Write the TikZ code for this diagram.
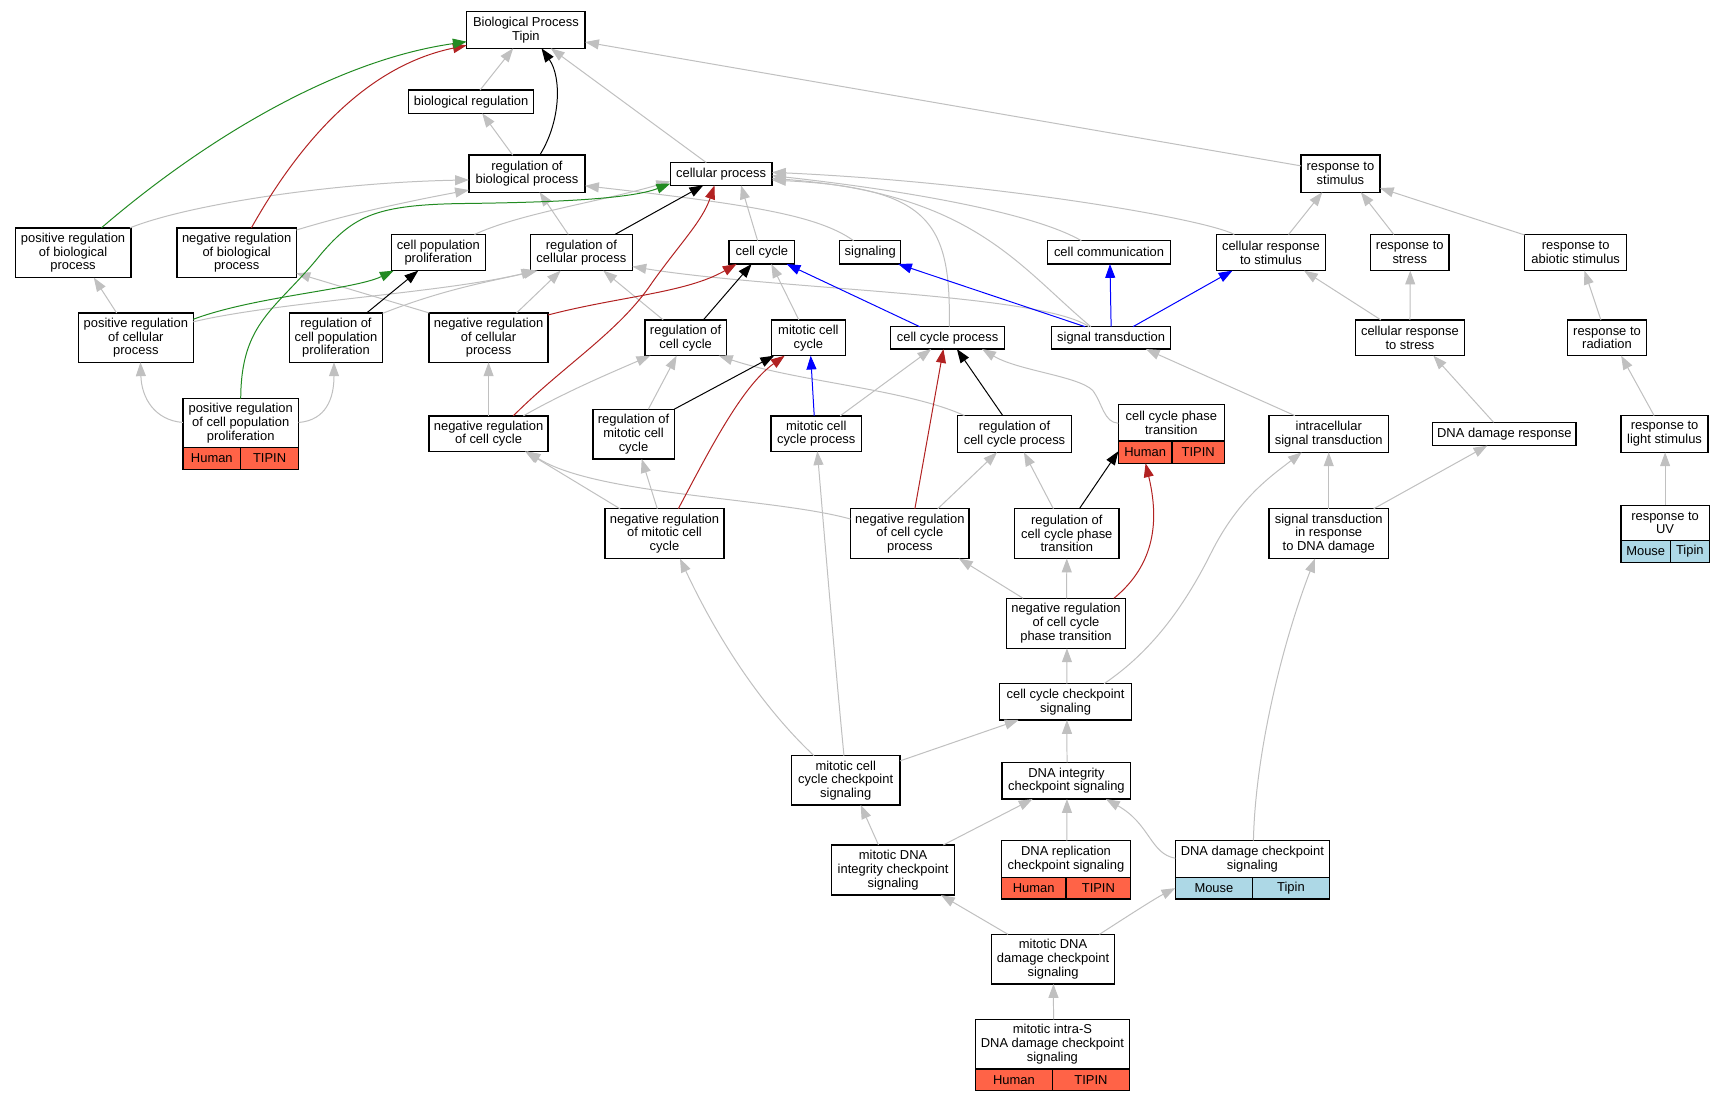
\documentclass[tikz,border=0pt]{standalone}
\usepackage{fontspec}
\setmainfont{Liberation Sans}
\usetikzlibrary{arrows.meta,calc}
\definecolor{edgegray}{RGB}{192,192,192}
\definecolor{tomatoc}{RGB}{255,99,71}
\definecolor{lblue}{RGB}{173,216,230}
\definecolor{fbrick}{RGB}{178,34,34}
\definecolor{fgreen}{RGB}{34,139,34}
\tikzset{
  gobox/.style={draw=black, line width=1.25pt, fill=white, inner sep=0pt, align=center},
  hcell/.style={gobox, fill=tomatoc},
  mcell/.style={gobox, fill=lblue},
  sz/.style 2 args={minimum width=#1pt, minimum height=#2pt},
  edgebase/.style={line width=0.9pt, -{Triangle[length=12.5pt,width=9pt]}},
  isa/.style={edgebase, color=edgegray},
  regs/.style={edgebase, color=black},
  nregs/.style={edgebase, color=fbrick},
  pregs/.style={edgebase, color=fgreen},
  partof/.style={edgebase, color=blue},
}
\begin{document}
\begin{tikzpicture}[x=1pt,y=-1pt,font=\fontsize{11.7}{12.4}\selectfont]
\useasboundingbox (0,0) rectangle (1559.7,995.5);
\fill[white] (0,0) rectangle (1559.7,995.5);
% ---------------- nodes ----------------
\node[gobox, sz={107}{33.2}] (bp) at (475.5,27.1) {Biological Process\\Tipin};
\node[gobox, sz={113}{21}] (breg) at (426,92) {biological regulation};
\node[gobox, sz={105}{33.5}] (rbp) at (476.5,157.05) {regulation of\\biological process};
\node[gobox, sz={92}{20.6}] (cp) at (652,157.3) {cellular process};
\node[gobox, sz={71.2}{33.5}] (rs) at (1212,157.05) {response to\\stimulus};
\node[gobox, sz={104.5}{45}] (prbp) at (66.05,228.5) {positive regulation\\of biological\\process};
\node[gobox, sz={108}{45}] (nrbp) at (214,228.5) {negative regulation\\of biological\\process};
\node[gobox, sz={84.7}{32.7}] (cpp) at (396.35,228.35) {cell population\\proliferation};
\node[gobox, sz={92.2}{32.7}] (rcp) at (525.7,228.35) {regulation of\\cellular process};
\node[gobox, sz={59.2}{21.1}] (cc) at (688.9,228.15) {cell cycle};
\node[gobox, sz={55.1}{21.1}] (sig) at (786.85,228.15) {signaling};
\node[gobox, sz={111.1}{21.1}] (ccom) at (1002.75,228.15) {cell communication};
\node[gobox, sz={98.3}{32.7}] (crs) at (1149.15,228.35) {cellular response\\to stimulus};
\node[gobox, sz={71.3}{32.7}] (rstress) at (1274.65,228.35) {response to\\stress};
\node[gobox, sz={92.2}{32.7}] (ras) at (1424.7,228.35) {response to\\abiotic stimulus};
\node[gobox, sz={103.7}{44.6}] (prcp) at (122.85,305.3) {positive regulation\\of cellular\\process};
\node[gobox, sz={84.4}{44.6}] (rcpp) at (303.8,305.3) {regulation of\\cell population\\proliferation};
\node[gobox, sz={107.5}{44.6}] (nrcp) at (441.75,305.3) {negative regulation\\of cellular\\process};
\node[gobox, sz={73.4}{32.3}] (rcc) at (619.9,305.45) {regulation of\\cell cycle};
\node[gobox, sz={66.5}{32.3}] (mcc) at (730.95,305.45) {mitotic cell\\cycle};
\node[gobox, sz={103.5}{20.2}] (ccp) at (856.75,305.5) {cell cycle process};
\node[gobox, sz={107.3}{20.2}] (st) at (1004.65,305.5) {signal transduction};
\node[gobox, sz={98.1}{32.3}] (crstress) at (1274.85,305.45) {cellular response\\to stress};
\node[gobox, sz={71.2}{32.3}] (rrad) at (1453,305.45) {response to\\radiation};
% table: positive regulation of cell population proliferation
\node[gobox, sz={104.5}{44.3}] (prcpp) at (217.65,382.55) {positive regulation\\of cell population\\proliferation};
\node[hcell, sz={52.25}{19.6}] (prcppa) at (191.525,414.5) {Human};
\node[hcell, sz={52.25}{19.6}] (prcppb) at (243.775,414.5) {TIPIN};
\node[gobox, sz={107.5}{32}] (nrcc) at (441.75,392) {negative regulation\\of cell cycle};
\node[gobox, sz={73.6}{45}] (rmcc) at (572.8,392.5) {regulation of\\mitotic cell\\cycle};
\node[gobox, sz={82}{32}] (mccp) at (738,392) {mitotic cell\\cycle process};
\node[gobox, sz={103.4}{33.2}] (rccp) at (917.3,392.4) {regulation of\\cell cycle process};
% table: cell cycle phase transition
\node[gobox, sz={95.8}{32.7}] (ccpt) at (1059.1,382.35) {cell cycle phase\\transition};
\node[hcell, sz={48.5}{20.2}] (ccpta) at (1035.45,408.8) {Human};
\node[hcell, sz={47.3}{20.2}] (ccptb) at (1083.35,408.8) {TIPIN};
\node[gobox, sz={107.8}{33.2}] (ist) at (1201.4,392.4) {intracellular\\signal transduction};
\node[gobox, sz={129.6}{21.1}] (ddr) at (1360.2,392.35) {DNA damage response};
\node[gobox, sz={78.5}{33.2}] (rls) at (1505.05,392.4) {response to\\light stimulus};
\node[gobox, sz={107.6}{45}] (nrmcc) at (600.8,482.5) {negative regulation\\of mitotic cell\\cycle};
\node[gobox, sz={107.3}{45}] (nrccp) at (822.65,482.5) {negative regulation\\of cell cycle\\process};
\node[gobox, sz={94.1}{45}] (rccpt) at (964.55,482.5) {regulation of\\cell cycle phase\\transition};
\node[gobox, sz={107.8}{45}] (stdd) at (1201.4,482.5) {signal transduction\\in response\\to DNA damage};
% table: response to UV
\node[gobox, sz={79.7}{32}] (ruv) at (1505.55,472.8) {response to\\UV};
\node[mcell, sz={44.6}{19.7}] (ruva) at (1488,498.65) {Mouse};
\node[mcell, sz={35.1}{19.7}] (ruvb) at (1527.85,498.65) {Tipin};
\node[gobox, sz={107.3}{45.2}] (nrccpt) at (963.85,563.6) {negative regulation\\of cell cycle\\phase transition};
\node[gobox, sz={119.5}{32.8}] (cccs) at (963.45,634.6) {cell cycle checkpoint\\signaling};
\node[gobox, sz={98.1}{44.6}] (mcccs) at (764.65,705.6) {mitotic cell\\cycle checkpoint\\signaling};
\node[gobox, sz={116.3}{33.2}] (dics) at (964.25,705.9) {DNA integrity\\checkpoint signaling};
\node[gobox, sz={111}{45.3}] (mdics) at (807.5,786.65) {mitotic DNA\\integrity checkpoint\\signaling};
% table: DNA replication checkpoint signaling
\node[gobox, sz={117.1}{33.2}] (drcs) at (963.85,776.7) {DNA replication\\checkpoint signaling};
\node[hcell, sz={58.55}{19.6}] (drcsa) at (934.575,803.1) {Human};
\node[hcell, sz={58.55}{19.6}] (drcsb) at (993.125,803.1) {TIPIN};
% table: DNA damage checkpoint signaling
\node[gobox, sz={139.3}{33.2}] (ddcs) at (1132.35,776.7) {DNA damage checkpoint\\signaling};
\node[mcell, sz={69.8}{19.6}] (ddcsa) at (1097.6,803.1) {Mouse};
\node[mcell, sz={69.5}{19.6}] (ddcsb) at (1167.25,803.1) {Tipin};
\node[gobox, sz={111.3}{44.9}] (mddcs) at (952.15,867.25) {mitotic DNA\\damage checkpoint\\signaling};
% table: mitotic intra-S DNA damage checkpoint signaling
\node[gobox, sz={139.3}{44.9}] (mis) at (951.55,944.15) {mitotic intra-S\\DNA damage checkpoint\\signaling};
\node[hcell, sz={69.65}{19.6}] (misa) at (916.725,976.4) {Human};
\node[hcell, sz={69.65}{19.6}] (misb) at (986.375,976.4) {TIPIN};
% ---------------- gray is_a edges ----------------
\draw[isa] ($(breg)+(8,-10.5)$) -- ($(bp)+(-11.5,16.6)$);
\draw[isa] ($(cp)+(-13.4,-10.3)$) -- ($(bp)+(22.5,16.6)$);
\draw[isa] ($(rs)+(-35.6,-7.05)$) -- ($(bp)+(53.5,10.9)$);
\draw[isa] ($(rbp)+(-12.9,-16.75)$) -- ($(breg)+(10,10.5)$);
\draw[isa] ($(prbp)+(51.5,-22.5)$) .. controls (170,185) and (300,165) .. ($(rbp)+(-52.5,5.65)$);
\draw[isa] ($(nrbp)+(54,-20.5)$) .. controls (320,192) and (380,180) .. ($(rbp)+(-52.5,14.75)$);
\draw[isa] ($(cpp)+(32.65,-16.35)$) .. controls (470,193) and (540,183) .. ($(cp)+(-46,6.7)$);
\draw[isa] ($(rcp)+(-11.9,-16.35)$) -- ($(rbp)+(11.4,16.75)$);
\draw[isa] ($(sig)+(-15.05,-10.55)$) .. controls (740,195) and (680,185) .. ($(rbp)+(52.5,10.95)$);
\draw[isa] ($(ccom)+(-25.05,-10.55)$) .. controls (930,190) and (800,170) .. ($(cp)+(46,1.5)$);
\draw[isa] ($(crs)+(-33.15,-16.35)$) .. controls (1090,198) and (900,165) .. ($(cp)+(46,-1.5)$);
\draw[isa] ($(ccp)+(1.55,-10.1)$) .. controls (860,200) and (840,170) .. ($(cp)+(46,5.5)$);
\draw[isa] ($(st)+(-18.35,-10.1)$) .. controls (920,240) and (880,175) .. ($(cp)+(46,4)$);
\draw[isa] ($(cc)+(-3.9,-10.55)$) -- ($(cp)+(18,10.3)$);
\draw[isa] ($(crs)+(15.95,-16.35)$) -- ($(rs)+(-16.4,16.75)$);
\draw[isa] ($(rstress)+(-14.45,-16.35)$) -- ($(rs)+(18.4,16.75)$);
\draw[isa] ($(ras)+(-46.1,-15.85)$) -- ($(rs)+(35.6,12.95)$);
\draw[isa] ($(prcp)+(-17.35,-22.3)$) -- ($(prbp)+(18.75,22.5)$);
\draw[isa] ($(prcp)+(51.85,-14.3)$) .. controls (250,273) and (400,265) .. ($(rcp)+(-41.7,16.35)$);
\draw[isa] ($(rcpp)+(42.2,-22)$) .. controls (400,262) and (440,255) .. ($(rcp)+(-39.7,16.35)$);
\draw[isa] ($(nrcp)+(25.25,-22.3)$) -- ($(rcp)+(-18.7,16.35)$);
\draw[isa] ($(nrcp)+(-53.5,-22.3)$) -- ($(nrbp)+(54,18.5)$);
\draw[isa] ($(prcpp)+(52.25,-0.55)$) .. controls (295,380) and (302,360) .. ($(rcpp)+(-1.8,22.3)$);
\draw[isa] ($(prcpp)+(-52.25,-0.55)$) .. controls (140,380) and (128,360) .. ($(prcp)+(4.15,22.3)$);
\draw[isa] ($(nrcc)+(0,-16)$) -- ($(nrcp)+(0,22.3)$);
\draw[isa] ($(rcc)+(-20.2,-16.15)$) -- ($(rcp)+(19.8,16.35)$);
\draw[isa] ($(mcc)+(-8.65,-16.15)$) -- ($(cc)+(8.5,10.55)$);
\draw[isa] ($(st)+(-20,-10.1)$) .. controls (940,265) and (700,262) .. ($(rcp)+(46.1,12.65)$);
\draw[isa] ($(crstress)+(-26.25,-16.15)$) -- ($(crs)+(29.85,16.35)$);
\draw[isa] ($(crstress)+(0,-16.15)$) -- ($(rstress)+(0.5,16.35)$);
\draw[isa] ($(rrad)+(-5.5,-16.15)$) -- ($(ras)+(7.9,16.35)$);
\draw[isa] ($(nrcc)+(31.45,-16)$) .. controls (510,355) and (550,338) .. ($(rcc)+(-31.9,16.15)$);
\draw[isa] ($(rmcc)+(13.4,-22.5)$) -- ($(rcc)+(-8.1,16.15)$);
\draw[isa] ($(rccp)+(-45.2,-16.6)$) .. controls (820,352) and (720,345) .. ($(rcc)+(30.1,16.15)$);
\draw[isa] ($(mccp)+(21.7,-16)$) -- ($(ccp)+(-14.75,10.1)$);
\draw[isa] ($(ccpt)+(-47.9,0.35)$) .. controls (998,382) and (997,365) .. (988,353) .. controls (975,340) and (920,335) .. ($(ccp)+(31.25,10.1)$);
\draw[isa] ($(ist)+(-30.6,-16.6)$) -- ($(st)+(31.35,10.1)$);
\draw[isa] ($(ddr)+(-9.8,-10.55)$) -- ($(crstress)+(21.15,16.15)$);
\draw[isa] ($(rls)+(-9.45,-16.6)$) -- ($(rrad)+(12.8,16.15)$);
\draw[isa] ($(nrmcc)+(-40.2,-22.5)$) -- ($(nrcc)+(32.95,16)$);
\draw[isa] ($(nrmcc)+(-6.5,-22.5)$) -- ($(rmcc)+(7.4,22.5)$);
\draw[isa] ($(nrccp)+(-53.65,-13.2)$) .. controls (700,450) and (540,448) .. ($(nrcc)+(34.45,16)$);
\draw[isa] ($(nrccp)+(25.25,-22.5)$) -- ($(rccp)+(-15.8,16.6)$);
\draw[isa] ($(rccpt)+(-12.15,-22.5)$) -- ($(rccp)+(8.5,16.6)$);
\draw[isa] ($(nrccpt)+(-38.75,-22.6)$) -- ($(nrccp)+(44.35,22.5)$);
\draw[isa] ($(nrccpt)+(0.6,-22.6)$) -- ($(rccpt)+(0,22.5)$);
\draw[isa] ($(stdd)+(0,-22.5)$) -- ($(ist)+(0,16.6)$);
\draw[isa] ($(stdd)+(40.6,-22.5)$) -- ($(ddr)+(-15.4,10.55)$);
\draw[isa] ($(ruv)+(0,-16)$) -- ($(rls)+(0.5,16.6)$);
\draw[isa] ($(cccs)+(1.25,-16.4)$) -- ($(nrccpt)+(0.85,22.6)$);
\draw[isa] ($(cccs)+(34.75,-16.4)$) .. controls (1040,590) and (1070,550) .. (1095,500) .. controls (1120,450) and (1150,430) .. ($(ist)+(-24.4,16.6)$);
\draw[isa] ($(mcccs)+(49.05,-17.6)$) -- ($(cccs)+(-42.45,16.4)$);
\draw[isa] ($(mcccs)+(-28.65,-22.3)$) .. controls (690,640) and (650,580) .. ($(nrmcc)+(14,22.5)$);
\draw[isa] ($(mcccs)+(-1.55,-22.3)$) .. controls (755,600) and (745,480) .. ($(mccp)+(1,16)$);
\draw[isa] ($(dics)+(0.5,-16.6)$) -- ($(cccs)+(1.25,16.4)$);
\draw[isa] ($(mdics)+(-13.2,-22.65)$) -- ($(mcccs)+(13.55,22.3)$);
\draw[isa] ($(mdics)+(45.4,-22.65)$) -- ($(dics)+(-30.65,16.6)$);
\draw[isa] ($(drcs)+(0.85,-16.6)$) -- ($(dics)+(0.45,16.6)$);
\draw[isa] ($(ddcs)+(-69.65,-0.7)$) .. controls (1040,772) and (1040,745) .. ($(dics)+(35.75,16.6)$);
\draw[isa] ($(ddcs)+(0.95,-16.6)$) .. controls (1135,680) and (1160,580) .. ($(stdd)+(-12.4,22.5)$);
\draw[isa] ($(mddcs)+(-40.75,-22.45)$) -- ($(mdics)+(43.3,22.65)$);
\draw[isa] ($(mddcs)+(41.95,-22.45)$) .. controls (1020,828) and (1045,812) .. ($(ddcsa)+(-34.9,-0.1)$);
\draw[isa] ($(mis)+(1,-22.45)$) -- ($(mddcs)+(0.35,22.45)$);
% ---------------- regulates (black) ----------------
\draw[regs] ($(rbp)+(11.5,-16.75)$) .. controls (507,110) and (508,70) .. ($(bp)+(14.1,16.6)$);
\draw[regs] ($(rcpp)+(27.7,-22.3)$) -- ($(cpp)+(-18.15,16.35)$);
\draw[regs] ($(rcp)+(30.3,-16.35)$) -- ($(cp)+(-16.1,10.3)$);
\draw[regs] ($(rcc)+(16,-16.15)$) -- ($(cc)+(-9.3,10.55)$);
\draw[regs] ($(rmcc)+(36.8,-22.5)$) -- ($(mcc)+(-30.95,16.15)$);
\draw[regs] ($(rccp)+(-10.6,-16.6)$) -- ($(ccp)+(8.45,10.1)$);
\draw[regs] ($(rccpt)+(11.35,-22.5)$) -- ($(ccpta)+(-24.25,-0.8)$);
% ---------------- negatively regulates (red) ----------------
\draw[nregs] ($(nrbp)+(13.3,-22.5)$) .. controls (270,130) and (330,60) .. ($(bp)+(-53.5,13.9)$);
\draw[nregs] ($(nrcp)+(53.75,-20.5)$) .. controls (560,268) and (620,265) .. ($(cc)+(-22.9,10.55)$);
\draw[nregs] ($(nrcc)+(22.35,-16)$) .. controls (510,330) and (560,300) .. (590,255) .. controls (615,220) and (635,200) .. ($(cp)+(-6,10.3)$);
\draw[nregs] ($(nrmcc)+(12.5,-22.5)$) .. controls (640,410) and (670,350) .. ($(mcc)+(-21.45,16.15)$);
\draw[nregs] ($(nrccp)+(4.55,-22.5)$) -- ($(ccp)+(-3.75,10.1)$);
\draw[nregs] ($(nrccpt)+(43.25,-22.6)$) .. controls (1045,510) and (1048,470) .. ($(ccpta)+(0.35,10.1)$);
% ---------------- positively regulates (green) ----------------
\draw[pregs] ($(prbp)+(25.65,-22.5)$) .. controls (180,130) and (300,55) .. ($(bp)+(-53.5,10.6)$);
\draw[pregs] ($(prcp)+(51.85,-16.6)$) .. controls (230,268) and (320,262) .. ($(cpp)+(-40.35,16.35)$);
\draw[pregs] ($(prcpp)+(0,-22.15)$) .. controls (218,290) and (250,280) .. (290,230) .. controls (320,195) and (340,185) .. (420,184) .. controls (500,183) and (570,180) .. ($(cp)+(-46,8.7)$);
% ---------------- part of (blue) ----------------
\draw[partof] ($(ccp)+(-25.15,-10.1)$) -- ($(cc)+(22.3,10.55)$);
\draw[partof] ($(st)+(-23.55,-10.1)$) -- ($(sig)+(25.15,10.55)$);
\draw[partof] ($(st)+(0,-10.1)$) -- ($(ccom)+(0.85,10.55)$);
\draw[partof] ($(st)+(19.75,-10.1)$) -- ($(crs)+(-34.75,16.35)$);
\draw[partof] ($(mccp)+(-1.8,-16)$) -- ($(mcc)+(2.05,16.15)$);
\end{tikzpicture}
\end{document}
